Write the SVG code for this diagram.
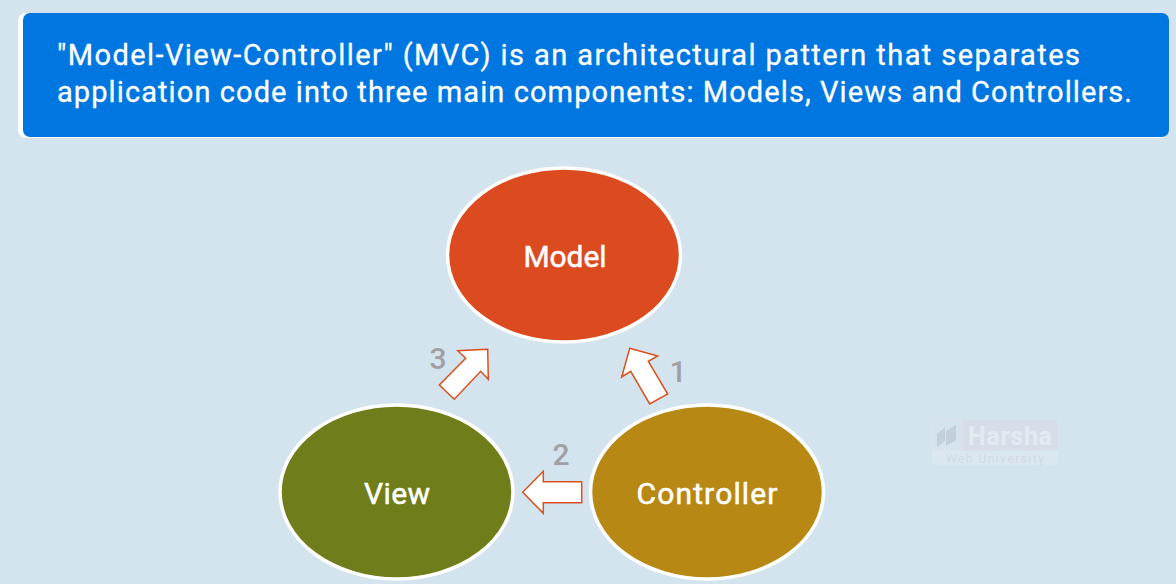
<svg xmlns="http://www.w3.org/2000/svg" width="1176" height="584" viewBox="0 0 1176 584">
<style>
text{font-family:"Roboto","Noto Sans","Liberation Sans",sans-serif}
.head{font-size:29px;fill:#fff;stroke:#fff;stroke-width:.3}
.node{stroke:#fff;stroke-width:3.500}
.nl{font-size:30px;fill:#fff;stroke:#fff;stroke-width:.5;text-anchor:middle}
.arrow{fill:#fff;stroke:#d9501e;stroke-width:1.500;stroke-linejoin:miter}
.num{font-size:30px;font-weight:500;fill:#a0a0a4;text-anchor:middle}
</style>
<rect width="1176" height="584" fill="#d4e4ef"/>
<g id="banner">
<rect x="18" y="13" width="1151" height="125" rx="8" fill="#fff"/>
<rect x="23" y="13" width="1146" height="124" rx="7" fill="#0077e0"/>
<text class="head" x="57" y="65" textLength="1023">"Model-View-Controller" (MVC) is an architectural pattern that separates</text>
<text class="head" x="57" y="102" textLength="1075">application code into three main components: Models, Views and Controllers.</text>
</g>
<g id="model"><ellipse class="node" cx="564" cy="255" rx="116.500" ry="87" fill="#dc4a1f"/><text class="nl" x="565" y="267" textLength="83">Model</text></g>
<g id="view"><ellipse class="node" cx="396.500" cy="492" rx="116.500" ry="87" fill="#6f7e1a"/><text class="nl" x="397" y="504" textLength="66">View</text></g>
<g id="controller"><ellipse class="node" cx="707" cy="492" rx="116.500" ry="87" fill="#b78914"/><text class="nl" x="707" y="504" textLength="141">Controller</text></g>
<g id="connectors">
<polygon class="arrow" points="629.700,348.300 657.700,356 648.300,361.300 667.700,394 649.700,404 630.700,371.300 621.700,377"/>
<polygon class="arrow" points="522.700,492.300 543.300,471.300 543.300,481.700 581.700,481.700 581.700,502.700 543.300,502.700 543.300,513.300"/>
<polygon class="arrow" points="487.700,349.300 457.700,350.700 465.700,358.300 439.300,385 454.300,399.300 480.700,371.300 488.300,379.300"/>
</g>
<g id="numbers">
<text class="num" x="678" y="382">1</text>
<text class="num" x="561" y="465">2</text>
<text class="num" x="438" y="369">3</text>
</g>
<g id="watermark">
<rect x="933" y="420" width="124" height="30" fill="#d6dde9"/>
<rect x="933" y="420" width="29" height="30" fill="#d5e3ee" stroke="#dfe3ec"/>
<path d="M937 434l8-7v14l-8 6zM946 431l10-6v15l-10 6z" fill="#c3d0dc"/>
<rect x="932" y="451" width="126" height="14" fill="#dae7f1"/>
<text x="968" y="445" font-size="25" font-weight="700" fill="#e3eaf2" textLength="84">Harsha</text>
<text x="946" y="463" font-size="12" fill="#d0d9e6" textLength="98">Web University</text>
</g>
</svg>
